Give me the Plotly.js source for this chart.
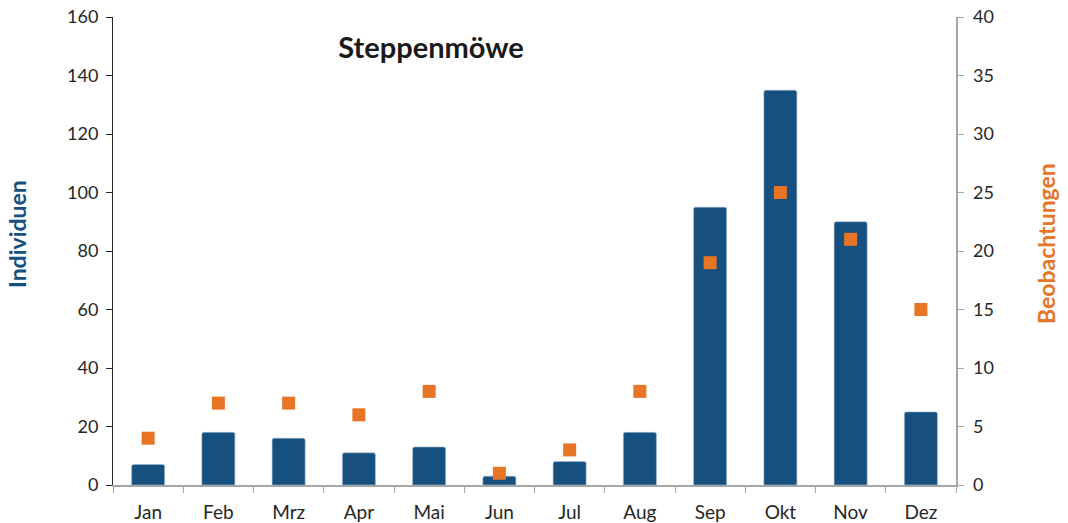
<!DOCTYPE html>
<html>
<head>
<meta charset="utf-8">
<script src="https://cdn.plot.ly/plotly-3.0.1.min.js"></script>
<style>html,body{margin:0;padding:0;background:#fff;}#chart{width:1068px;height:523px;}</style>
</head>
<body>
<div id="chart"></div>
<script>
const months = ["Jan","Feb","Mrz","Apr","Mai","Jun","Jul","Aug","Sep","Okt","Nov","Dez"];
const individuen = [7, 18, 16, 11, 13, 3, 8, 18, 95, 135, 90, 25];
const beobachtungen = [4, 7, 7, 6, 8, 1, 3, 8, 19, 25, 21, 15];

const FONT = "Lato, 'Open Sans', sans-serif";
const blue = "#16507F";
const orange = "#E87426";

const traces = [
  {
    type: "bar", x: months, y: individuen, name: "Individuen",
    marker: {color: blue, cornerradius: 2, line: {color: "#9fb8d0", width: 0.6}},
    yaxis: "y"
  },
  {
    type: "scatter", mode: "markers", x: months, y: beobachtungen, name: "Beobachtungen",
    marker: {symbol: "square", size: 13, color: orange},
    yaxis: "y2"
  }
];

const layout = {
  width: 1068, height: 523,
  margin: {l: 113, r: 112, t: 17, b: 38},
  paper_bgcolor: "#fff", plot_bgcolor: "#fff",
  showlegend: false,
  bargap: 0.53,
  font: {family: FONT, size: 18, color: "#262626"},
  title: {text: "<b>Steppenmöwe</b>", font: {family: FONT, size: 29, color: "#1a1a1a"},
          x: 431/1068, xref: "container", xanchor: "center", y: 1 - 48/523, yref: "container", yanchor: "middle"},
  xaxis: {
    type: "category", range: [-0.5, 11.5], tickson: "boundaries", ticks: "outside", ticklen: 6, tickcolor: "#a6a6a6",
    showline: true, linecolor: "#a6a6a6", linewidth: 1.5, showgrid: false, zeroline: false,
    tickfont: {size: 19, color: "#262626"}, ticklabelstandoff: 10
  },
  yaxis: {
    range: [0, 160], dtick: 20, ticks: "outside", ticklen: 6, tickcolor: "#262626",
    showline: true, linecolor: "#262626", linewidth: 1, showgrid: false, zeroline: false,
    tickfont: {size: 18, color: "#262626"}, ticklabelstandoff: 4
  },
  yaxis2: {
    range: [0, 40], dtick: 5, overlaying: "y", side: "right", ticks: "outside", ticklen: 6, tickcolor: "#a6a6a6",
    showline: true, linecolor: "#a6a6a6", linewidth: 1.5, showgrid: false, zeroline: false,
    tickfont: {size: 18, color: "#262626"}, ticklabelstandoff: 6
  },
  annotations: [
    {text: "<b>Individuen</b>", xref: "paper", yref: "paper", x: (17 - 113) / 843, y: (485 - 234) / 468,
     xanchor: "center", yanchor: "middle", textangle: -90, showarrow: false, font: {size: 23, color: blue}},
    {text: "<b>Beobachtungen</b>", xref: "paper", yref: "paper", x: (1046 - 113) / 843, y: (485 - 244) / 468,
     xanchor: "center", yanchor: "middle", textangle: -90, showarrow: false, font: {size: 23, color: orange}}
  ]
};

Plotly.newPlot("chart", traces, layout, {displayModeBar: false, staticPlot: true});
</script>
</body>
</html>
